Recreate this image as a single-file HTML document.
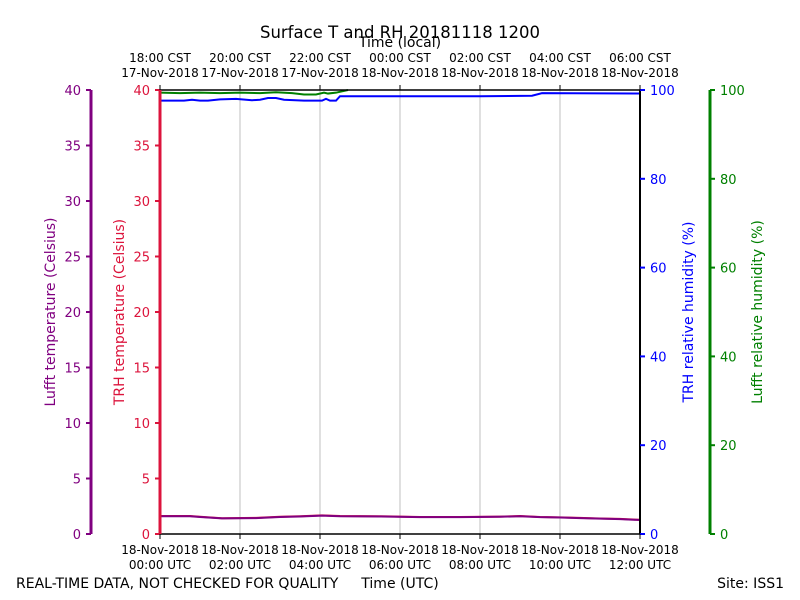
<!DOCTYPE html>
<html><head><meta charset="utf-8"><style>
body{margin:0;background:#fff}
svg{display:block;font-family:"DejaVu Sans","Liberation Sans",sans-serif}
</style></head><body>
<svg width="800" height="600" viewBox="0 0 800 600">
<g id="grid"></g>
<g id="series"></g>
<g id="axes"></g>
<text x="400" y="38" font-size="16.5" text-anchor="middle">Surface T and RH 20181118 1200</text>
<text x="400" y="47" font-size="14" text-anchor="middle">Time (local)</text>
<text x="16" y="588" font-size="14">REAL-TIME DATA, NOT CHECKED FOR QUALITY</text>
<text x="400" y="588" font-size="14" text-anchor="middle">Time (UTC)</text>
<text x="784" y="588" font-size="14" text-anchor="end">Site: ISS1</text>
<text transform="translate(55,312) rotate(-90)" font-size="14" fill="#800080" text-anchor="middle">Lufft temperature (Celsius)</text>
<text transform="translate(124,312) rotate(-90)" font-size="14" fill="#dc143c" text-anchor="middle">TRH temperature (Celsius)</text>
<text transform="translate(693,312) rotate(-90)" font-size="14" fill="#0000ff" text-anchor="middle">TRH relative humidity (%)</text>
<text transform="translate(762,312) rotate(-90)" font-size="14" fill="#008000" text-anchor="middle">Lufft relative humidity (%)</text>
</svg>
<script>
const NS="http://www.w3.org/2000/svg";
// data (hours since 18-Nov-2018 00:00 UTC)
const trhRhHours=[0,0.6,0.8,1.0,1.2,1.5,1.9,2.3,2.5,2.7,2.9,3.1,3.6,4.05,4.15,4.25,4.4,4.5,6,8,9.3,9.55,12];
const trhRhValues=[97.6,97.6,97.8,97.6,97.6,97.9,98.0,97.7,97.8,98.2,98.2,97.8,97.6,97.6,98.0,97.6,97.6,98.6,98.6,98.6,98.7,99.3,99.2];
const lufftRhHours=[0,0.5,1,1.5,2,2.5,2.9,3.3,3.6,3.9,4.1,4.2,4.4,4.6,4.7];
const lufftRhValues=[99.4,99.3,99.4,99.3,99.4,99.3,99.5,99.3,99.0,99.0,99.4,99.2,99.4,99.8,100];
const tempHours=[0,0.75,1.0,1.55,2.4,3.0,3.5,4.05,4.5,5.5,6.5,7.5,8.5,9.0,9.5,10.0,10.5,11.0,11.5,12];
const trhTempValues=[1.62,1.62,1.55,1.42,1.45,1.55,1.6,1.68,1.62,1.6,1.53,1.53,1.57,1.62,1.53,1.5,1.45,1.4,1.36,1.28];
const lufftTempValues=[1.6,1.6,1.53,1.41,1.43,1.53,1.58,1.65,1.6,1.58,1.52,1.52,1.55,1.6,1.52,1.49,1.43,1.38,1.34,1.26];
const tempTicks=[0,5,10,15,20,25,30,35,40];
const rhTicks=[0,20,40,60,80,100];
const utcTickHours=[0,2,4,6,8,10,12];
const utcDates=["18-Nov-2018","18-Nov-2018","18-Nov-2018","18-Nov-2018","18-Nov-2018","18-Nov-2018","18-Nov-2018"];
const utcTimes=["00:00 UTC","02:00 UTC","04:00 UTC","06:00 UTC","08:00 UTC","10:00 UTC","12:00 UTC"];
const cstTimes=["18:00 CST","20:00 CST","22:00 CST","00:00 CST","02:00 CST","04:00 CST","06:00 CST"];
const cstDates=["17-Nov-2018","17-Nov-2018","17-Nov-2018","18-Nov-2018","18-Nov-2018","18-Nov-2018","18-Nov-2018"];

const X0=160,X1=640,Y0=534,Y1=90;
const xs=h=>X0+(X1-X0)*h/12;
const yT=t=>Y0-(Y0-Y1)*t/40;
const yR=r=>Y0-(Y0-Y1)*r/100;
function mk(tag,attrs,parent,txt){const e=document.createElementNS(NS,tag);for(const k in attrs)e.setAttribute(k,attrs[k]);if(txt!==undefined)e.textContent=txt;parent.appendChild(e);return e;}
const grid=document.getElementById('grid'),series=document.getElementById('series'),axes=document.getElementById('axes');
utcTickHours.forEach((h,i)=>{if(h>0&&h<12){const l=mk('line',{x1:xs(h),x2:xs(h),y1:Y1,y2:Y0,stroke:'#b0b0b0','stroke-width':0.8},grid);

}});
function line(hx,vals,yf,color,name){const p=mk('polyline',{points:hx.map((h,i)=>xs(h)+','+yf(vals[i])).join(' '),fill:'none',stroke:color,'stroke-width':2},series);

}
line(lufftRhHours,lufftRhValues,yR,'#008000','lufft-rh-line');
line(trhRhHours,trhRhValues,yR,'#0000ff','trh-rh-line');
line(tempHours,trhTempValues,yT,'#dc143c','trh-temp-line');
line(tempHours,lufftTempValues,yT,'#800080','lufft-temp-line');
function sp(x1,y1,x2,y2,c,w,n){const l=mk('line',{x1,y1,x2,y2,stroke:c,'stroke-width':w},axes);

}
sp(X0,Y1,X1,Y1,'#000',1.5,'top-spine');
sp(X0,Y0,X1,Y0,'#000',1.5,'bottom-spine');
sp(X1,Y1,X1,Y0,'#000',2,'right-spine');
sp(X0,Y1,X0,Y0,'#dc143c',3,'trh-temp-spine');
sp(91,Y1,91,Y0,'#800080',3,'lufft-temp-spine');
sp(710,Y1,710,Y0,'#008000',3,'lufft-rh-spine');
function tl(x,y,s,c,anchor,n){const t=mk('text',{x,y,fill:c,'font-size':13,'text-anchor':anchor},axes,s);

}
tempTicks.forEach(t=>{const y=yT(t);
sp(86,y,91,y,'#800080',2,'lufft-temp-tick');sp(155,y,160,y,'#dc143c',2,'trh-temp-tick');
tl(81,y+5,String(t),'#800080','end','lufft-temp-tick-label');tl(150,y+5,String(t),'#dc143c','end','trh-temp-tick-label');});
rhTicks.forEach(r=>{const y=yR(r);
sp(640,y,645,y,'#0000ff',2,'trh-rh-tick');sp(710,y,715,y,'#008000',2,'lufft-rh-tick');
tl(650,y+5,String(r),'#0000ff','start','trh-rh-tick-label');tl(720,y+5,String(r),'#008000','start','lufft-rh-tick-label');});
utcTickHours.forEach((h,i)=>{const x=xs(h);
sp(x,Y0,x,Y0+5,'#000',1,'x-tick');sp(x,Y1-5,x,Y1,'#000',1,'top-x-tick');
const a=mk('text',{x,y:554,'font-size':12,'text-anchor':'middle'},axes,utcDates[i]);


const b=mk('text',{x,y:569,'font-size':12,'text-anchor':'middle'},axes,utcTimes[i]);


const c=mk('text',{x,y:62,'font-size':12,'text-anchor':'middle'},axes,cstTimes[i]);


const d=mk('text',{x,y:77,'font-size':12,'text-anchor':'middle'},axes,cstDates[i]);

});
</script>
</body></html>
